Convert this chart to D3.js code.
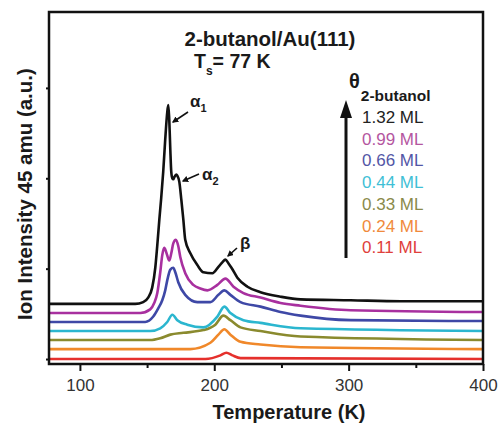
<!DOCTYPE html>
<html>
<head>
<meta charset="utf-8">
<script src="https://cdn.jsdelivr.net/npm/d3@7"></script>
<style>
  body { margin: 0; background: #fff; }
  text { font-family: "Liberation Sans", Arial, sans-serif; }
</style>
</head>
<body>
<svg id="chart" width="498" height="424"></svg>
<script>
// coverages (legend, top to bottom)
const coverages = ["1.32 ML", "0.99 ML", "0.66 ML", "0.44 ML", "0.33 ML", "0.24 ML", "0.11 ML"];
const lineColors = ["#111111", "#a8309f", "#3e48a6", "#2bb6cf", "#8a8a2e", "#f0882a", "#e5302c"];
const textColors = ["#222222", "#b4569f", "#5356a6", "#3fbfd6", "#8a8a4a", "#f08a3c", "#e0403c"];

// [temperature K, ion intensity a.u.] (offsets included)
const ml132 = [[77,0.61],[141.2,0.61],[147.1,0.63],[150.8,0.68],[153.8,0.79],[156.1,1.01],[157.6,1.26],[159.1,1.54],[160.5,1.78],[162,2.07],[163.5,2.43],[165,2.73],[165.8,2.81],[166.5,2.65],[167.3,2.31],[168,2.07],[168.8,2.0],[169.5,1.99],[170.2,2.01],[171.7,2.04],[172.5,2.03],[174,1.96],[175.5,1.76],[177,1.54],[178.4,1.32],[182.2,1.17],[187.4,1.04],[191.9,0.96],[198.6,0.95],[203.1,1.02],[206,1.07],[208.3,1.1],[210.5,1.06],[212.8,1.01],[217.2,0.9],[224.7,0.8],[234.4,0.74],[249.3,0.69],[264.2,0.66],[301.5,0.65],[338.8,0.64],[400,0.64]];
const ml099 = [[77,0.51],[144.9,0.51],[152.3,0.55],[155.3,0.62],[157.6,0.73],[159.8,0.96],[161.3,1.15],[162.8,1.23],[164.3,1.18],[166.5,1.09],[168,1.17],[169.5,1.28],[171.4,1.32],[173.2,1.25],[174.7,1.13],[178.4,0.95],[184.4,0.82],[189.6,0.78],[194.9,0.76],[202.3,0.82],[208.3,0.89],[214.3,0.8],[221.7,0.73],[234.4,0.68],[249.3,0.62],[264.2,0.59],[301.5,0.54],[400,0.52]];
const ml066 = [[77,0.41],[148.6,0.41],[154.6,0.47],[158.3,0.56],[161.3,0.65],[163.5,0.76],[165,0.87],[167.3,0.99],[169.5,1.01],[171,0.96],[173.2,0.85],[178.4,0.71],[187.4,0.63],[197.1,0.63],[203.1,0.71],[207.5,0.76],[212,0.71],[219.5,0.63],[234.4,0.58],[249.3,0.52],[264.2,0.48],[301.5,0.43],[400,0.42]];
const ml044 = [[77,0.31],[152.3,0.31],[159.8,0.34],[165,0.41],[168.8,0.49],[172.5,0.43],[179.9,0.38],[191.9,0.35],[202.3,0.47],[207.5,0.58],[212,0.51],[221.7,0.43],[234.4,0.4],[264.2,0.34],[400,0.31]];
const ml033 = [[77,0.21],[152.3,0.21],[159.8,0.23],[167.3,0.27],[177,0.29],[191.9,0.32],[200.8,0.38],[206.8,0.48],[212,0.43],[219.5,0.35],[234.4,0.31],[264.2,0.25],[400,0.21]];
const ml024 = [[77,0.11],[182.2,0.11],[197.1,0.18],[203.1,0.27],[207.5,0.33],[212,0.27],[219.5,0.19],[234.4,0.16],[264.2,0.13],[400,0.11]];
const ml011 = [[77,0],[193.4,0],[204.6,0.04],[209,0.07],[213.5,0.04],[219.5,0.01],[400,0]];

const xTicks = [100, 200, 300, 400];
const xMinor = [150, 250, 350];
const yTicks = [0, 1, 2, 3];

const series = [ml132, ml099, ml066, ml044, ml033, ml024, ml011];

const svg = d3.select("#chart");
const margin = { top: 12, right: 15, bottom: 60, left: 49 };
const width = 498 - margin.left - margin.right;
const height = 424 - margin.top - margin.bottom;

const x = d3.scaleLinear().domain([77, 400]).range([margin.left, margin.left + width]);
const y = d3.scaleLinear().domain([-0.055, 3.84]).range([margin.top + height, margin.top]);

// axes
svg.append("g")
  .attr("transform", "translate(0," + (margin.top + height) + ")")
  .call(d3.axisBottom(x).tickValues(xTicks).tickSize(7).tickPadding(8))
  .call(g => g.select(".domain").remove())
  .call(g => g.selectAll("line").attr("stroke", "#111").attr("stroke-width", 2))
  .call(g => g.selectAll("text").attr("font-size", 17).attr("fill", "#333")
    .style("font-family", "Liberation Sans, Arial, sans-serif"));

svg.append("g")
  .attr("transform", "translate(0," + (margin.top + height) + ")")
  .call(d3.axisBottom(x).tickValues(xMinor).tickSize(4).tickFormat(""))
  .call(g => g.select(".domain").remove())
  .call(g => g.selectAll("line").attr("stroke", "#111").attr("stroke-width", 2));

svg.append("g")
  .attr("transform", "translate(" + margin.left + ",0)")
  .call(d3.axisLeft(y).tickValues(yTicks).tickSize(3).tickFormat(""))
  .call(g => g.select(".domain").remove())
  .call(g => g.selectAll("line").attr("stroke", "#111").attr("stroke-width", 2));

// traces
const line = d3.line()
  .x(d => x(d[0]))
  .y(d => y(d[1]))
  .curve(d3.curveMonotoneX);

svg.append("g")
  .selectAll("path")
  .data(series.slice().reverse())
  .join("path")
  .attr("d", line)
  .attr("fill", "none")
  .attr("stroke", (d, i) => lineColors[series.length - 1 - i])
  .attr("stroke-width", 2.6)
  .attr("stroke-linejoin", "round");

// frame
svg.append("rect")
  .attr("x", margin.left)
  .attr("y", margin.top)
  .attr("width", width)
  .attr("height", height)
  .attr("fill", "none")
  .attr("stroke", "#111")
  .attr("stroke-width", 2.5);

// title
const title = svg.append("g").attr("font-weight", "bold").attr("fill", "#1a1a1a");
title.append("text").attr("x", 270).attr("y", 46).attr("text-anchor", "middle")
  .attr("font-size", 20.5).text("2-butanol/Au(111)");
const ts = title.append("text").attr("x", 194).attr("y", 68).attr("font-size", 19.5);
ts.append("tspan").text("T");
ts.append("tspan").attr("font-size", 12).attr("dy", 7).text("s");
ts.append("tspan").attr("dy", -7).text("= 77 K");

// peak labels
function peakLabel(sym, sub, tx, ty, x1, y1, x2, y2) {
  const t = svg.append("text").attr("x", tx).attr("y", ty)
    .attr("font-size", 17).attr("font-weight", "bold").attr("fill", "#1a1a1a");
  t.append("tspan").text(sym);
  if (sub) t.append("tspan").attr("font-size", 11).attr("dy", 5).text(sub);
  svg.append("line").attr("x1", x1).attr("y1", y1).attr("x2", x2).attr("y2", y2)
    .attr("stroke", "#111").attr("stroke-width", 1.6).attr("marker-end", "url(#ah)");
}
const defs = svg.append("defs");
defs.append("marker").attr("id", "ah").attr("viewBox", "0 0 10 10")
  .attr("refX", 8).attr("refY", 5).attr("markerWidth", 4).attr("markerHeight", 4)
  .attr("orient", "auto")
  .append("path").attr("d", "M0,0L10,5L0,10z").attr("fill", "#111");

peakLabel("\u03b1", "1", 190, 107, 188, 112, 173, 122);
peakLabel("\u03b1", "2", 202, 180, 199, 174, 183, 181);
peakLabel("\u03b2", null, 240, 249, 237, 248, 228, 256);

// coverage arrow
svg.append("line").attr("x1", 346).attr("x2", 346).attr("y1", 258).attr("y2", 114)
  .attr("stroke", "#111").attr("stroke-width", 3);
svg.append("path").attr("d", "M340,118L346,100L352,118Z").attr("fill", "#111");

const th = svg.append("text").attr("x", 349).attr("y", 88)
  .attr("font-size", 20).attr("font-weight", "bold").attr("fill", "#1a1a1a");
th.append("tspan").text("\u03b8");
th.append("tspan").attr("font-size", 15.5).attr("dy", 13).attr("dx", 1).text("2-butanol");

svg.append("g")
  .selectAll("text")
  .data(coverages)
  .join("text")
  .attr("x", 362)
  .attr("y", (d, i) => 123 + i * 21.7)
  .attr("font-size", 17)
  .attr("fill", (d, i) => textColors[i])
  .text(d => d);

// axis titles
svg.append("text")
  .attr("x", 289).attr("y", 419)
  .attr("text-anchor", "middle")
  .attr("font-size", 20).attr("font-weight", "bold").attr("fill", "#1a1a1a")
  .text("Temperature (K)");

svg.append("text")
  .attr("transform", "translate(32,194) rotate(-90)")
  .attr("text-anchor", "middle")
  .attr("font-size", 20.5).attr("font-weight", "bold").attr("fill", "#1a1a1a")
  .text("Ion Intensity 45 amu (a.u.)");
</script>
</body>
</html>
